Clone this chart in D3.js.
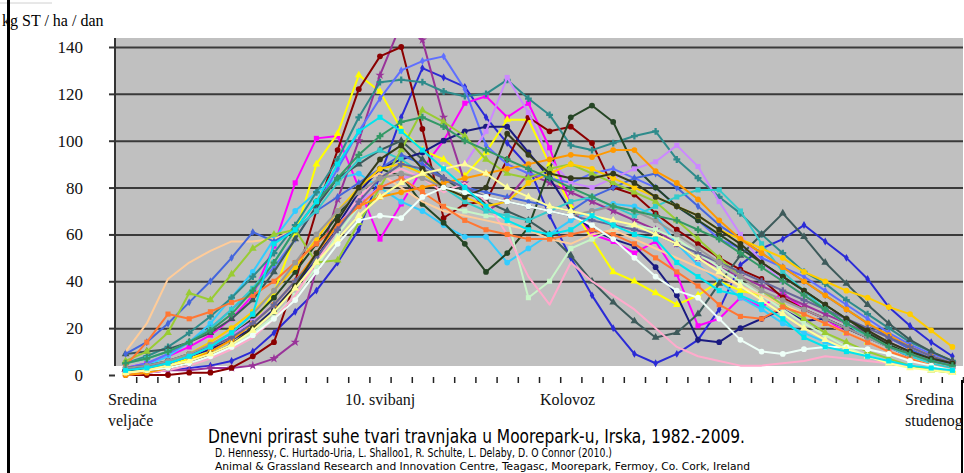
<!DOCTYPE html>
<html>
<head>
<meta charset="utf-8">
<script src="https://cdn.jsdelivr.net/npm/d3@7/dist/d3.min.js"></script>
<style>
  body { margin: 0; background: #fff; }
  svg { display: block; }
</style>
</head>
<body>
<div id="chart"></div>
<script>
// categories: 40 weekly points, mid-February .. mid-November
const weeks = d3.range(40);
const years = [1982, 1983, 1984, 1985, 1986, 1987, 1988, 1989, 1990, 1991, 1992, 1993, 1994, 1995,
  1996, 1997, 1998, 1999, 2000, 2001, 2002, 2003, 2004, 2005, 2006, 2007, 2008, 2009];
const yTicks = [0, 20, 40, 60, 80, 100, 120, 140];
const gridTicks = [20, 40, 60, 80, 100, 120, 140];
const yTitle = "kg ST / ha / dan";
const xNotes = [["Sredina", "veljače"], ["10. svibanj"], ["Kolovoz"], ["Sredina", "studenog"]];
const title = "Dnevni prirast suhe tvari travnjaka u Moorepark-u, Irska, 1982.-2009.";
const authors = "D. Hennessy, C. Hurtado-Uria, L. Shalloo1, R. Schulte, L. Delaby, D. O Connor (2010.)";
const institute = "Animal & Grassland Research and Innovation Centre, Teagasc, Moorepark, Fermoy, Co. Cork, Ireland";

// daily growth, kg DM / ha / day
const g1982 = [1,1,2,3,4,6,10,18,27,36,48,62,85,110,131,127,123,110,99,89,68,50,34,20,9,5,9,15,28,47,54,58,64,57,50,41,29,21,14,8];
const g1983 = [3,5,8,12,17,24,34,55,82,101,102,80,58,73,88,100,116,119,110,116,97,72,60,57,52,57,43,21,24,33,29,35,28,24,18,14,10,7,5,3];
const g1984 = [1,2,4,7,10,15,22,35,60,90,103,128,121,105,96,92,85,95,109,109,90,72,58,44,40,35,30,34,40,36,34,30,26,22,18,14,10,7,4,2];
const g1985 = [2,4,8,14,22,33,44,58,70,78,84,86,80,74,70,64,59,59,48,54,60,66,70,73,72,68,56,47,40,33,28,22,18,14,11,8,6,4,3,2];
const g1986 = [1,1,2,2,3,3,4,7,14,45,75,100,128,150,143,110,82,70,75,86,82,78,74,70,66,62,56,50,46,42,38,34,30,26,22,18,14,10,7,5];
const g1987 = [0,0,0,1,1,3,8,14,40,70,96,122,136,140,105,67,73,74,92,110,104,106,99,80,77,69,62,56,50,45,41,33,28,24,20,16,12,8,5,3];
const g1988 = [5,8,12,18,25,33,42,52,64,78,92,110,125,126,125,121,119,120,126,118,111,98,96,99,102,104,92,84,76,69,60,52,44,39,32,26,20,14,10,6];
const g1989 = [3,5,9,14,20,28,36,46,58,72,88,104,118,130,134,136,122,98,90,86,84,82,86,88,84,80,72,66,58,54,50,46,42,36,30,24,18,13,9,6];
const g1990 = [3,4,6,9,12,17,24,33,44,56,68,80,88,85,73,65,56,44,52,63,88,110,115,108,89,80,72,66,60,54,48,42,36,30,24,18,13,9,6,4];
const g1991 = [9,10,11,14,18,24,32,44,58,72,84,90,96,100,92,84,78,74,70,66,60,51,40,31,23,16,18,26,39,51,60,69,59,48,39,30,22,15,10,6];
const g1992 = [2,3,5,8,11,15,20,28,38,50,64,78,88,92,95,100,104,106,106,95,84,70,62,58,55,46,34,15,14,20,24,28,23,24,20,16,12,8,5,3];
const g1993 = [1,2,4,6,9,13,18,25,34,46,60,72,80,84,78,72,70,68,67,33,40,54,58,62,64,62,58,52,46,40,34,28,22,17,12,8,6,4,3,2];
const g1994 = [0,1,2,4,7,11,16,24,34,48,62,76,84,88,84,78,82,74,60,42,30,48,40,34,28,20,12,8,6,4,4,5,6,8,7,6,5,4,3,2];
const g1995 = [2,3,5,8,12,17,23,30,40,52,64,74,80,84,86,88,90,104,127,112,92,82,80,84,88,91,98,89,74,60,48,40,34,28,22,16,12,8,5,3];
const g1996 = [10,22,41,48,53,57,57,58,62,70,76,82,86,80,74,70,68,66,64,62,58,56,60,62,58,54,50,46,42,38,34,30,26,22,18,14,10,7,5,3];
const g1997 = [9,14,22,31,40,50,61,57,62,70,76,82,88,94,90,84,80,78,76,74,72,70,76,80,84,86,80,72,64,58,52,46,40,34,28,22,16,11,7,4];
const g1998 = [5,7,10,14,20,28,37,48,62,70,82,92,96,92,86,80,74,70,68,66,70,74,76,72,68,72,76,79,79,70,56,44,36,28,22,16,12,8,5,3];
const g1999 = [6,10,18,35,32,43,54,60,62,48,49,65,80,96,113,108,102,92,86,84,88,90,86,82,78,74,66,58,50,42,36,30,24,18,14,10,7,4,2,1];
const g2000 = [1,2,5,9,14,20,27,36,46,58,70,80,88,90,86,80,76,72,74,82,86,90,88,84,80,76,72,68,62,58,54,50,44,40,36,33,29,26,19,12];
const g2001 = [0,1,3,6,10,15,22,30,40,52,64,72,76,78,80,82,84,86,88,90,92,94,93,96,96,87,82,75,66,58,52,46,40,34,28,22,17,12,8,5];
const g2002 = [4,14,26,24,27,31,34,40,48,56,64,72,80,84,78,72,66,62,60,58,58,60,62,60,56,50,44,38,30,25,24,29,26,22,18,14,10,7,4,2];
const g2003 = [2,3,5,8,12,16,22,30,40,50,62,74,84,90,88,84,80,76,74,72,70,68,66,64,62,60,56,52,48,44,40,36,32,28,24,20,16,12,8,5];
const g2004 = [3,4,6,9,13,18,26,36,48,60,70,78,84,86,84,80,78,76,74,72,70,68,70,72,70,66,60,54,48,42,36,32,28,24,20,16,12,9,6,4];
const g2005 = [2,2,3,5,9,13,20,27,38,52,66,80,92,98,88,80,76,80,103,94,86,84,84,86,82,76,72,68,62,56,48,42,36,30,24,19,14,10,7,5];
const g2006 = [5,7,10,14,19,26,36,48,62,74,84,94,102,108,110,106,100,96,92,88,84,80,76,72,70,68,66,62,58,52,46,40,34,28,22,17,12,9,6,4];
const g2007 = [1,2,3,5,8,12,17,24,32,44,56,66,68,67,76,80,78,76,74,72,70,68,64,58,50,42,36,33,24,15,10,9,11,12,12,11,9,6,4,2];
const g2008 = [1,2,4,6,9,13,19,27,37,48,58,68,76,82,86,88,90,86,80,76,72,70,68,66,64,60,56,50,44,38,32,26,20,15,11,8,5,3,2,1];
const g2009 = [2,3,5,8,12,18,26,56,62,74,90,104,110,104,96,88,80,72,66,62,60,62,68,64,60,58,48,42,36,34,30,24,16,12,10,8,6,4,3,2];

const growth = [g1982, g1983, g1984, g1985, g1986, g1987, g1988, g1989, g1990, g1991, g1992, g1993, g1994, g1995,
  g1996, g1997, g1998, g1999, g2000, g2001, g2002, g2003, g2004, g2005, g2006, g2007, g2008, g2009];

// styling per year (Excel-like palette)
const colors = ["#2b2bd6", "#ff00ff", "#ffff00", "#33ccff", "#993399", "#8b0000", "#2e8b8b", "#5f6fff",
  "#254525", "#3d5a5a", "#1a1a80", "#c8f5c8", "#ffaacc", "#cc88ff", "#ffcc99", "#4466dd",
  "#33cccc", "#99cc33", "#ffcc00", "#ff9900", "#ff7733", "#666699", "#999999", "#333a1a",
  "#339966", "#eefff8", "#ffff99", "#00e5ee"];
const markers = ["diamond", "square", "triangle", "circle", "star", "circle", "cross", "diamond",
  "circle", "triangle", "circle", "square", "none", "square", "none", "diamond",
  "square", "triangle", "circle", "circle", "square", "cross", "circle", "circle",
  "cross", "circle", "triangle", "square"];

const width = 964, height = 473;
const plot = { left: 115, right: 963, top: 38, bottom: 366 };

const svg = d3.select("#chart").append("svg")
  .attr("width", width)
  .attr("height", height)
  .style("font-family", "'Liberation Serif', 'Times New Roman', serif");

const x = d3.scaleLinear().domain([0, weeks.length]).range([plot.left, plot.right]);
const y = d3.scaleLinear().domain([0, 140]).range([375, 47]);

// plot background
svg.append("rect")
  .attr("x", plot.left).attr("y", plot.top)
  .attr("width", plot.right - plot.left).attr("height", plot.bottom - plot.top)
  .attr("fill", "#c0c0c0");

// gridlines
svg.append("g")
  .attr("transform", `translate(${plot.left},0)`)
  .call(d3.axisLeft(y).tickValues(gridTicks).tickSize(-(plot.right - plot.left)).tickFormat(""))
  .call(g => g.select(".domain").remove())
  .call(g => g.selectAll("line").attr("stroke", "#3a3a3a").attr("stroke-width", 2));

// y axis
const yAxis = svg.append("g")
  .attr("transform", `translate(${plot.left},0)`)
  .call(d3.axisLeft(y).tickValues(yTicks).tickSize(6).tickPadding(26).tickSizeOuter(0));
yAxis.select(".domain").remove();
yAxis.selectAll("line").attr("stroke", "#333").attr("stroke-width", 2);
yAxis.selectAll("text").attr("font-size", 17).attr("fill", "#111")
  .attr("font-family", "'Liberation Serif', serif");
svg.append("line")
  .attr("x1", plot.left).attr("x2", plot.left)
  .attr("y1", plot.top).attr("y2", plot.bottom)
  .attr("stroke", "#333").attr("stroke-width", 2);

// x axis tick marks (between categories)
const xAxis = svg.append("g")
  .attr("transform", "translate(0,377)")
  .call(d3.axisBottom(x).tickValues(d3.range(1, weeks.length + 1)).tickSize(6).tickFormat("").tickSizeOuter(0));
xAxis.select(".domain").remove();
xAxis.selectAll("line").attr("stroke", "#222").attr("stroke-width", 1.5);

// series
svg.append("clipPath").attr("id", "clip")
  .append("rect").attr("x", plot.left).attr("y", plot.top)
  .attr("width", plot.right - plot.left).attr("height", 345);

const cx = i => x(i + 0.5);
const line = d3.line().x((d, i) => cx(i)).y(d => y(d));

const symbolTypes = {
  circle: d3.symbolCircle, square: d3.symbolSquare, triangle: d3.symbolTriangle,
  diamond: d3.symbolDiamond, star: d3.symbolStar, cross: d3.symbolCross
};

const series = svg.append("g").attr("clip-path", "url(#clip)");
growth.forEach((vals, k) => {
  const g = series.append("g").attr("class", "year-" + years[k]);
  g.append("path")
    .datum(vals)
    .attr("fill", "none")
    .attr("stroke", colors[k])
    .attr("stroke-width", 2)
    .attr("stroke-linejoin", "round")
    .attr("d", line);
  if (markers[k] !== "none") {
    const sym = d3.symbol().type(symbolTypes[markers[k]]).size(markers[k] === "diamond" ? 18 : 26);
    g.selectAll("path.mk")
      .data(vals)
      .join("path")
      .attr("class", "mk")
      .attr("transform", (d, i) => `translate(${cx(i)},${y(d)})`)
      .attr("d", sym)
      .attr("fill", colors[k]);
  }
});

// y title and page border
svg.append("text")
  .attr("x", 2).attr("y", 26)
  .attr("font-size", 16)
  .text(yTitle);
svg.append("line").attr("x1", 0).attr("x2", 52).attr("y1", 3).attr("y2", 3)
  .attr("stroke", "#d0d0d0").attr("stroke-width", 1);
svg.append("line").attr("x1", 8.5).attr("x2", 8.5).attr("y1", 0).attr("y2", height)
  .attr("stroke", "#000").attr("stroke-width", 3);
svg.append("line").attr("x1", 962).attr("x2", 962).attr("y1", 380).attr("y2", height)
  .attr("stroke", "#000").attr("stroke-width", 2);

// date annotations under the axis
const notePos = [108, 345, 540, 905];
xNotes.forEach((lines, k) => {
  const t = svg.append("text").attr("x", notePos[k]).attr("y", 405).attr("font-size", 16).attr("fill", "#111");
  lines.forEach((s, j) => t.append("tspan").attr("x", notePos[k]).attr("dy", j === 0 ? 0 : 21).text(s));
});

// title and credits
svg.append("text")
  .attr("x", 208).attr("y", 443)
  .attr("font-family", "'DejaVu Sans', sans-serif")
  .attr("font-size", 19)
  .attr("textLength", 537).attr("lengthAdjust", "spacingAndGlyphs")
  .text(title);
svg.append("text")
  .attr("x", 215).attr("y", 457)
  .attr("font-family", "'DejaVu Sans', sans-serif")
  .attr("font-size", 11.5)
  .attr("textLength", 397).attr("lengthAdjust", "spacingAndGlyphs")
  .text(authors);
svg.append("text")
  .attr("x", 215).attr("y", 470)
  .attr("font-family", "'DejaVu Sans', sans-serif")
  .attr("font-size", 10.5)
  .attr("textLength", 535).attr("lengthAdjust", "spacingAndGlyphs")
  .text(institute);
</script>
</body>
</html>
